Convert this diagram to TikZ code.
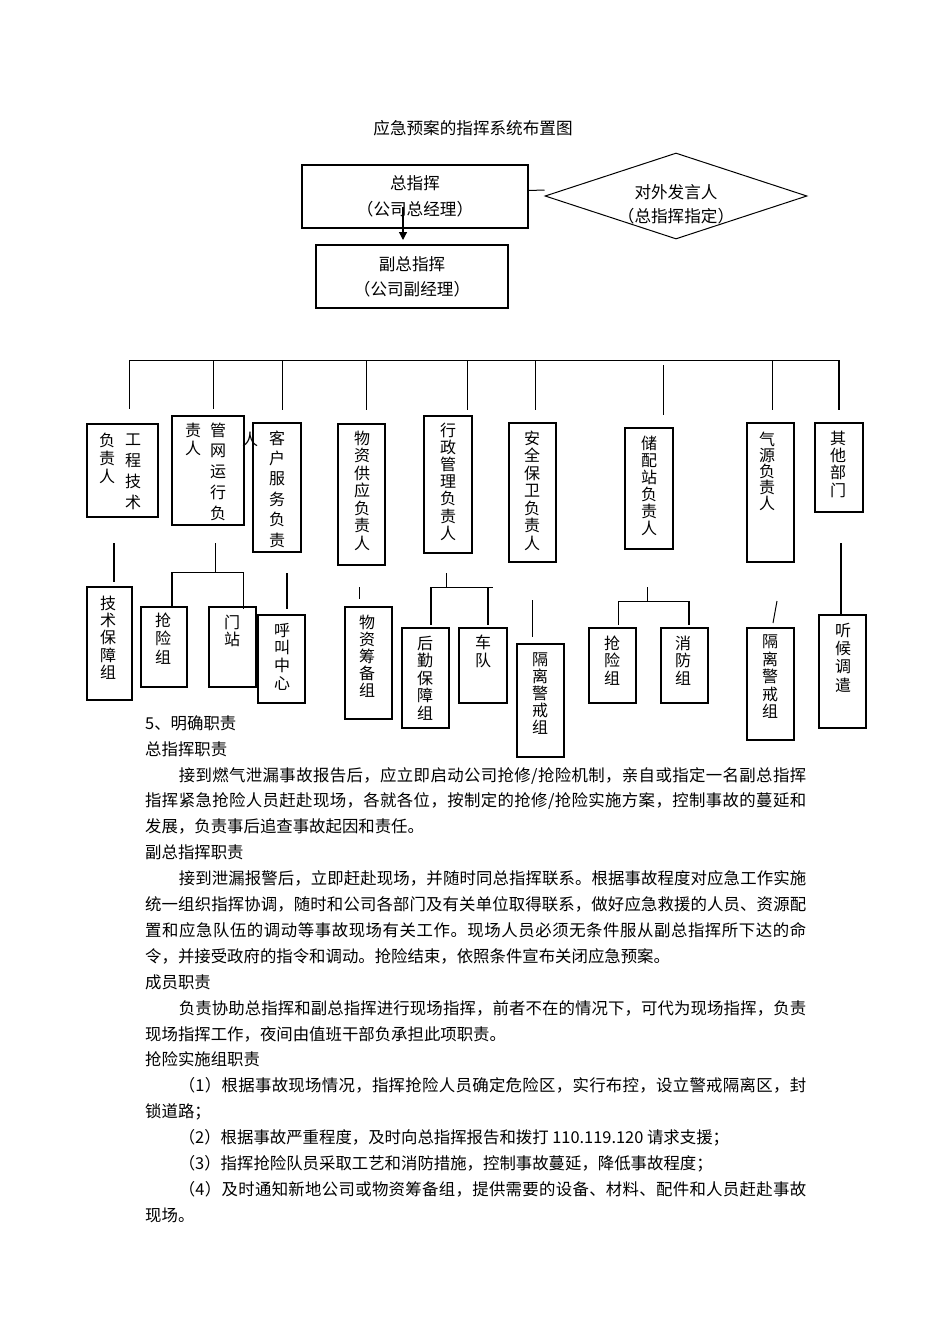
\documentclass[tikz,border=0pt]{standalone}
\usepackage{fontspec}
\newfontfamily\cjk{Noto Sans CJK SC}
\usetikzlibrary{arrows.meta,shapes.geometric}
\def\jstEnd{jstEnd}
\def\jst#1{\jsti#1\jstEnd}
\def\jsti#1{\ifx#1\jstEnd\else#1\hskip0pt plus1fil\relax\expandafter\jsti\fi}
\newcommand\jl[2]{\hbox to #1pt{\jst{#2}\unskip}}
\begin{document}
\begin{tikzpicture}[x=1pt,y=-1pt,
  bx/.style={draw,line width=1.1pt,inner sep=0pt},
  vt/.style={font=\cjk\fontsize{16}{#1}\selectfont,align=center,inner sep=0pt},
  bt/.style={font=\cjk\fontsize{16.4}{20}\selectfont,anchor=west,inner sep=0pt,text height=14.4pt,text depth=2pt},
  ln/.style={line width=1pt},
  hv/.style={line width=2pt}]
\fill[white] (0,0) rectangle (950,1344);
\useasboundingbox (0,0) rectangle (950,1344);

% title
\node[font=\cjk\fontsize{16.6}{20}\selectfont,inner sep=0pt] (title) at (473,128) {应急预案的指挥系统布置图};

% top
\node[bx,minimum width=226pt,minimum height=63pt,align=center,font=\cjk\fontsize{16.6}{26}\selectfont] (zong) at (415,196.5) {总指挥\\（公司总经理）};
\node[bx,minimum width=192pt,minimum height=63pt,align=center,font=\cjk\fontsize{16.6}{25}\selectfont] (fu) at (412,276.5) {副总指挥\\（公司副经理）};
\node[draw,diamond,line width=1pt,inner sep=0pt,aspect=3,minimum width=262pt,minimum height=86pt] (fy) at (676,196) {};
\node[align=center,inner sep=0pt,font=\cjk\fontsize{16.6}{24}\selectfont] (fyt) at (676,204) {对外发言人\\（总指挥指定）};
\draw[ln] ([yshift=6pt]zong.east) -- ([yshift=6pt]fy.west);
\coordinate (arS) at (403,207);
\coordinate (arE) at (403,240);
\draw[line width=1.2pt,-{Triangle[length=8pt,width=8pt]}] (arS) -- (arE);

% first level boxes
\node[bx,minimum width=71pt,minimum height=93pt] (A) at (122.5,470.5) {};
\node[bx,minimum width=72pt,minimum height=109pt] (B) at (208,470.5) {};
\node[bx,minimum width=48pt,minimum height=129pt] (C) at (277,487.5) {};
\node[bx,minimum width=47pt,minimum height=141pt] (D) at (361.5,494.5) {};
\node[bx,minimum width=48pt,minimum height=137pt] (E) at (448,484.5) {};
\node[bx,minimum width=47pt,minimum height=139pt] (F) at (532.5,492.5) {};
\node[bx,minimum width=48pt,minimum height=121pt] (G) at (649,488.5) {};
\node[bx,minimum width=47pt,minimum height=139pt] (H) at (770.5,492.5) {};
\node[bx,minimum width=48pt,minimum height=89pt] (I) at (839,467.5) {};

\node[vt=21] (At1) at (133,471.5) {工\\程\\技\\术};
\node[vt=18] (At2) at (107,458) {负\\责\\人};
\node[vt=20.75] (Bt1) at (218,471.5) {管\\网\\运\\行\\负};
\node[vt=18] (Bt2) at (193,439) {责\\人};
\node[vt=18] (Ct2) at (250,439) {人};
\node[vt=20.4] (Ct1) at (277,489) {客\\户\\服\\务\\负\\责};
\node[vt=17.5] (Dt) at (362,490.5) {物\\资\\供\\应\\负\\责\\人};
\node[vt=17.2] (Et) at (448,481.5) {行\\政\\管\\理\\负\\责\\人};
\node[vt=17.5] (Ft) at (532,490.5) {安\\全\\保\\卫\\负\\责\\人};
\node[vt=17] (Gt) at (649,485.5) {储\\配\\站\\负\\责\\人};
\node[vt=16] (Ht) at (767,471.5) {气\\源\\负\\责\\人};
\node[vt=17.3] (It) at (838,464) {其\\他\\部\\门};

% second level boxes
\node[bx,minimum width=45pt,minimum height=113pt] (a) at (109.5,643.5) {};
\node[bx,minimum width=46pt,minimum height=80pt] (b) at (164,647) {};
\node[bx,minimum width=47pt,minimum height=80pt] (c) at (232.5,647) {};
\node[bx,minimum width=47pt,minimum height=88pt] (d) at (281.5,659) {};
\node[bx,minimum width=47pt,minimum height=112pt] (e) at (368.5,663) {};
\node[bx,minimum width=47pt,minimum height=100pt] (f) at (425.5,678) {};
\node[bx,minimum width=48pt,minimum height=75pt] (g) at (483,665.5) {};
\node[bx,minimum width=47pt,minimum height=113pt] (h) at (540.5,700.5) {};
\node[bx,minimum width=47pt,minimum height=75pt] (i) at (612.5,665.5) {};
\node[bx,minimum width=47pt,minimum height=75pt] (j) at (684.5,665.5) {};
\node[bx,minimum width=47pt,minimum height=112pt] (k) at (770.5,684) {};
\node[bx,minimum width=47pt,minimum height=113pt] (l) at (842.5,671.5) {};

\node[vt=17.25] (at) at (108,637.5) {技\\术\\保\\障\\组};
\node[vt=18.5] (bt) at (163,638.5) {抢\\险\\组};
\node[vt=17] (ct) at (232,630.5) {门\\站};
\node[vt=17.7] (dt) at (282,656.5) {呼\\叫\\中\\心};
\node[vt=17] (et) at (367,656) {物\\资\\筹\\备\\组};
\node[vt=17.5] (ft) at (425,678) {后\\勤\\保\\障\\组};
\node[vt=18] (gt) at (483,651) {车\\队};
\node[vt=17] (ht) at (540,694) {隔\\离\\警\\戒\\组};
\node[vt=17.5] (it) at (612,660.5) {抢\\险\\组};
\node[vt=17.5] (jt) at (683,660.5) {消\\防\\组};
\node[vt=17.5] (kt) at (770,677) {隔\\离\\警\\戒\\组};
\node[vt=18.3] (lt) at (843,657.5) {听\\候\\调\\遣};

% connectors, top bar
\path (129,360) coordinate (bar1) (839,360) coordinate (bar9)
  (129,409) coordinate (d1) (213,360) coordinate (bar2) (213,409) coordinate (d2)
  (282,360) coordinate (bar3) (282,410) coordinate (d3)
  (366,360) coordinate (bar4) (366,410) coordinate (d4)
  (467,360) coordinate (bar5) (467,410) coordinate (d5)
  (535,360) coordinate (bar6) (535,410) coordinate (d6)
  (663,365) coordinate (bar7) (663,415) coordinate (d7)
  (772,360) coordinate (bar8) (772,410) coordinate (d8)
  (839,410) coordinate (d9);
\draw[ln] (bar1) -- (bar9);
\draw[ln] (bar1) -- (d1);
\draw[ln] (bar2) -- (d2);
\draw[ln] (bar3) -- (d3);
\draw[ln] (bar4) -- (d4);
\draw[ln] (bar5) -- (d5);
\draw[ln] (bar6) -- (d6);
\draw[ln] (bar7) -- (d7);
\draw[ln] (bar8) -- (d8);
\draw[hv] (bar9) -- (d9);

% second level connectors
\path (114,543) coordinate (p1a) (114,582) coordinate (p1b)
  (215,543) coordinate (p2a) (215,572) coordinate (p2b)
  (172,572) coordinate (p2l) (243,572) coordinate (p2r)
  (172,608) coordinate (p2lb) (243,609) coordinate (p2rb)
  (287,573) coordinate (p3a) (287,609) coordinate (p3b)
  (359,587) coordinate (p4a) (359,599) coordinate (p4b)
  (446,573) coordinate (p5a) (446,587) coordinate (p5b)
  (431,587) coordinate (p5l) (493,587) coordinate (p5r)
  (431,625) coordinate (p5lb) (488,587) coordinate (p5rt) (488,625) coordinate (p5rb)
  (532,600) coordinate (p6a) (532,637) coordinate (p6b)
  (647,587) coordinate (p7a) (647,601) coordinate (p7b)
  (618,601) coordinate (p7l) (689,601) coordinate (p7r)
  (618,625) coordinate (p7lb) (689,625) coordinate (p7rb)
  (777,601) coordinate (p8a) (773,623) coordinate (p8b)
  (841,543) coordinate (p9a) (841,615) coordinate (p9b);
\draw[hv] (p1a) -- (p1b);
\draw[ln] (p2a) -- (p2b);
\draw[ln] (p2l) -- (p2r);
\draw[hv] (p2l) -- (p2lb);
\draw[ln] (p2r) -- (p2rb);
\draw[hv] (p3a) -- (p3b);
\draw[ln] (p4a) -- (p4b);
\draw[ln] (p5a) -- (p5b);
\draw[ln] (p5l) -- (p5r);
\draw[hv] (p5l) -- (p5lb);
\draw[hv] (p5rt) -- (p5rb);
\draw[ln] (p6a) -- (p6b);
\draw[ln] (p7a) -- (p7b);
\draw[ln] (p7l) -- (p7r);
\draw[ln] (p7l) -- (p7lb);
\draw[hv] (p7r) -- (p7rb);
\draw[ln] (p8a) -- (p8b);
\draw[hv] (p9a) -- (p9b);

% body text
\node[bt] (t0) at (145,723) {5、明确职责};
\node[bt] (t1) at (145,748.9) {总指挥职责};
\node[bt] (t2) at (178.6,774.8) {\jl{627.4}{接到燃气泄漏事故报告后，应立即启动公司抢修/抢险机制，亲自或指定一名副总指挥}};
\node[bt] (t3) at (145,800.7) {\jl{661}{指挥紧急抢险人员赶赴现场，各就各位，按制定的抢修/抢险实施方案，控制事故的蔓延和}};
\node[bt] (t4) at (145,826.6) {发展，负责事后追查事故起因和责任。};
\node[bt] (t5) at (145,852.5) {副总指挥职责};
\node[bt] (t6) at (178.6,878.4) {\jl{627.4}{接到泄漏报警后，立即赶赴现场，并随时同总指挥联系。根据事故程度对应急工作实施}};
\node[bt] (t7) at (145,904.3) {\jl{661}{统一组织指挥协调，随时和公司各部门及有关单位取得联系，做好应急救援的人员、资源配}};
\node[bt] (t8) at (145,930.2) {\jl{661}{置和应急队伍的调动等事故现场有关工作。现场人员必须无条件服从副总指挥所下达的命}};
\node[bt] (t9) at (145,956.1) {令，并接受政府的指令和调动。抢险结束，依照条件宣布关闭应急预案。};
\node[bt] (t10) at (145,982) {成员职责};
\node[bt] (t11) at (178.6,1007.9) {\jl{627.4}{负责协助总指挥和副总指挥进行现场指挥，前者不在的情况下，可代为现场指挥，负责}};
\node[bt] (t12) at (145,1033.8) {现场指挥工作，夜间由值班干部负承担此项职责。};
\node[bt] (t13) at (145,1059.7) {抢险实施组职责};
\node[bt] (t14) at (178.6,1085.6) {\jl{627.4}{（1）根据事故现场情况，指挥抢险人员确定危险区，实行布控，设立警戒隔离区，封}};
\node[bt] (t15) at (145,1111.5) {锁道路；};
\node[bt] (t16) at (178.6,1137.4) {（2）根据事故严重程度，及时向总指挥报告和拨打 110.119.120 请求支援；};
\node[bt] (t17) at (178.6,1163.3) {（3）指挥抢险队员采取工艺和消防措施，控制事故蔓延，降低事故程度；};
\node[bt] (t18) at (178.6,1189.2) {\jl{627.4}{（4）及时通知新地公司或物资筹备组，提供需要的设备、材料、配件和人员赶赴事故}};
\node[bt] (t19) at (145,1215.1) {现场。};
\end{tikzpicture}
\end{document}
